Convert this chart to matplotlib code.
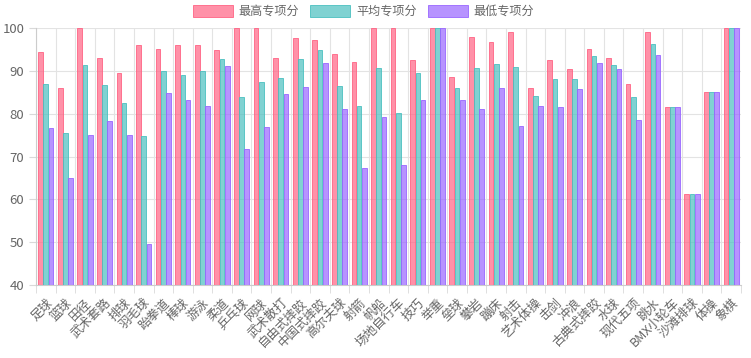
import matplotlib
matplotlib.use("Agg")
import matplotlib.pyplot as plt
import numpy as np

plt.rcParams['font.family'] = ['Noto Sans CJK SC', 'DejaVu Sans']

# data
sports = ["足球", "篮球", "田径", "武术套路", "排球", "羽毛球", "跆拳道", "棒球", "游泳", "柔道",
          "乒乓球", "网球", "武术散打", "自由式摔跤", "中国式摔跤", "高尔夫球", "射箭", "帆船",
          "场地自行车", "技巧", "举重", "垒球", "攀岩", "蹦床", "射击", "艺术体操", "击剑", "冲浪",
          "古典式摔跤", "水球", "现代五项", "跳水", "BMX小轮车", "沙滩排球", "体操", "象棋"]
max_score = [94.4, 85.9, 100, 93.1, 89.5, 96.1, 95.2, 96.1, 96.1, 94.9,
             100, 100, 93.1, 97.7, 97.2, 94.0, 92.1, 100,
             100, 92.6, 100, 88.6, 98.0, 96.8, 99.0, 86.0, 92.6, 90.5,
             95.1, 93.0, 87.0, 99.0, 81.5, 61.3, 85.0, 100]
avg_score = [86.9, 75.4, 91.4, 86.8, 82.6, 74.8, 90.0, 89.0, 89.9, 92.8,
             84.0, 87.5, 88.4, 92.8, 94.9, 86.5, 81.9, 90.7,
             80.1, 89.6, 100, 85.9, 90.7, 91.5, 90.9, 84.2, 88.2, 88.0,
             93.4, 91.4, 83.8, 96.3, 81.5, 61.3, 85.0, 100]
min_score = [76.6, 65.0, 75.1, 78.4, 75.0, 49.6, 84.9, 83.1, 81.7, 91.2,
             71.7, 76.8, 84.7, 86.3, 91.9, 81.2, 67.3, 79.2,
             68.0, 83.3, 100, 83.2, 81.2, 85.9, 77.2, 81.9, 81.6, 85.8,
             91.8, 90.5, 78.6, 93.7, 81.5, 61.3, 85.0, 100]
series_names = ["最高专项分", "平均专项分", "最低专项分"]
fills = [(1.0, 0.388, 0.518, 0.7), (0.294, 0.753, 0.753, 0.7), (0.6, 0.4, 1.0, 0.7)]
edges = [(1.0, 0.388, 0.518, 1.0), (0.294, 0.753, 0.753, 1.0), (0.6, 0.4, 1.0, 1.0)]

fig = plt.figure(figsize=(7.51, 3.58), dpi=100)
ax = fig.add_axes([36 / 751, 1 - 285 / 358, 705 / 751, 257 / 358])

x = np.arange(len(sports))
w = 0.24
offsets = [-0.2667, 0, 0.2667]
for vals, name, fc, ec, off in zip([max_score, avg_score, min_score], series_names, fills, edges, offsets):
    ax.bar(x + off, np.array(vals) - 40, w, bottom=40, color=fc, edgecolor=ec,
           linewidth=0.6, label=name, zorder=3)

ax.set_ylim(40, 100)
ax.set_xlim(-0.5, len(sports) - 0.5)
ax.set_yticks(range(40, 101, 10))
ax.set_xticks(x)
ax.set_xticklabels(sports, rotation=45, ha='right', rotation_mode='anchor', fontsize=9, color='#666666')
ax.tick_params(axis='x', length=0, pad=8)
ax.tick_params(axis='y', labelsize=9.5, labelcolor='#666666', length=5, color='#d9d9d9')

# grid lines at category boundaries, like chart.js
ax.set_xticks(np.arange(-0.5, len(sports), 1), minor=True)
ax.tick_params(axis='x', which='minor', length=6, color='#d9d9d9')
ax.grid(True, which='minor', axis='x', color='#e3e3e3', linewidth=0.8, zorder=0)
ax.grid(True, which='major', axis='y', color='#e3e3e3', linewidth=0.8, zorder=0)
for s in ['top', 'right']:
    ax.spines[s].set_visible(False)
for s in ['left', 'bottom']:
    ax.spines[s].set_color('#cccccc')

leg = fig.legend(loc='center', bbox_to_anchor=(363.5 / 751, 1 - 11.5 / 358), ncol=3, frameon=False,
                 fontsize=8.7, handlelength=3.3, handleheight=1.1, columnspacing=0.9,
                 handletextpad=0.5, borderpad=0.1)
for t in leg.get_texts():
    t.set_color('#666666')

fig.savefig("out.png", dpi=100)
